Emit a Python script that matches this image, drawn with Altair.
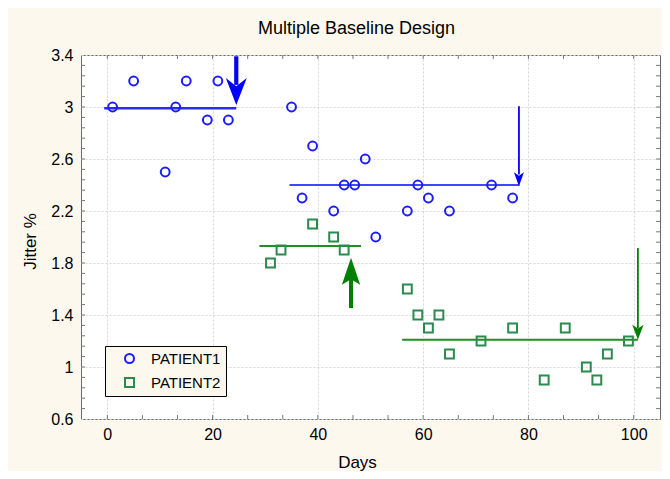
import altair as alt
import pandas as pd

# ---------------- data ----------------
patients = ["PATIENT1", "PATIENT2"]
point_colors = ["#1c1cff", "#2b8a4e"]
point_shapes = ["circle", "square"]

p1_days = [1, 5, 11, 13, 15, 19, 21, 23, 35, 37, 39, 43, 45, 47, 49, 51, 57, 59, 61, 65, 73, 77]
p1_jitter = [3.0, 3.2, 2.5, 3.0, 3.2, 2.9, 3.2, 2.9, 3.0, 2.3, 2.7, 2.2, 2.4, 2.4, 2.6, 2.0,
             2.2, 2.4, 2.3, 2.2, 2.4, 2.3]
p2_days = [31, 33, 39, 43, 45, 57, 59, 61, 63, 65, 71, 77, 83, 87, 91, 93, 95, 99]
p2_jitter = [1.8, 1.9, 2.1, 2.0, 1.9, 1.6, 1.4, 1.3, 1.4, 1.1, 1.2, 1.3, 0.9, 1.3, 1.0, 0.9, 1.1, 1.2]

# baseline (phase mean) lines
base_start = [-0.6, 34.6, 28.9, 56.0]
base_end = [24.5, 78.3, 48.2, 100.8]
base_level = [2.99, 2.40, 1.93, 1.21]
base_color = ["#2a2aff", "#4545ff", "#1f8f1f", "#1f8f1f"]
base_width = [2.6, 2.0, 2.0, 2.0]

# intervention arrows
arrow_day = [24.5, 78.2, 46.3, 100.8]
arrow_tail = [3.39, 3.005, 1.454, 1.915]
arrow_shaft_end = [3.17, 2.48, 1.70, 1.30]
arrow_tip = [3.015, 2.39, 1.84, 1.21]
arrow_color = ["#0000ff", "#0000ff", "#008000", "#008000"]
arrow_shaft_width = [4.2, 1.8, 4.0, 1.8]
arrow_head_path = [
    "M0,0 L-1,-2.57 L0,-1.8 L1,-2.57 Z",
    "M0,0 L-1,-2.8 L0,-2.1 L1,-2.8 Z",
    "M0,0 L-1,2.95 L0,2.35 L1,2.95 Z",
    "M0,0 L-1,-2.65 L0,-2.0 L1,-2.65 Z",
]
arrow_head_size = [441, 100, 335, 128]

# axis ticks
x_ticks = [0, 20, 40, 60, 80, 100]
y_ticks = [0.6, 1.0, 1.4, 1.8, 2.2, 2.6, 3.0, 3.4]
x_minor = [0, 6.67, 13.33, 20, 26.67, 33.33, 40, 46.67, 53.33, 60, 66.67, 73.33,
           80, 86.67, 93.33, 100]
y_minor = [0.68, 0.76, 0.84, 0.92, 1.0, 1.08, 1.16, 1.24, 1.32, 1.4, 1.48, 1.56, 1.64,
           1.72, 1.8, 1.88, 1.96, 2.04, 2.12, 2.2, 2.28, 2.36, 2.44, 2.52, 2.6, 2.68,
           2.76, 2.84, 2.92, 3.0, 3.08, 3.16, 3.24, 3.32]

W, H = 579, 364
FONT = "Liberation Sans"
BG = "#fcf8ee"

xscale = alt.Scale(domain=[-5, 105], nice=False, zero=False)
yscale = alt.Scale(domain=[0.6, 3.4], nice=False, zero=False)

X_AX = alt.Axis(values=x_ticks, title="Days", labelPadding=7,
                titleX=276, titleY=48, titleBaseline="alphabetic", titleAlign="center")
Y_AX = alt.Axis(values=y_ticks, format="~g", title="Jitter %", labelPadding=8,
                titleX=-51, titleY=186, titleBaseline="middle", titleAlign="center")


def X(field):
    return alt.X(field, scale=xscale, axis=X_AX)


def Y(field):
    return alt.Y(field, scale=yscale, axis=Y_AX)


points_df = pd.DataFrame({
    "Days": p1_days + p2_days,
    "Jitter": p1_jitter + p2_jitter,
    "Patient": [patients[0]] * len(p1_days) + [patients[1]] * len(p2_days),
})

legend = alt.Legend(
    title=None, orient="none", legendX=24, legendY=291,
    fillColor=BG, strokeColor="black", padding=5,
    labelFont=FONT, labelFontSize=15, labelColor="black",
    symbolSize=81, symbolStrokeWidth=2, symbolOffset=12, labelOffset=14,
    rowPadding=7,
)

points = alt.Chart(points_df).mark_point(filled=False, strokeWidth=2, size=78, opacity=1).encode(
    x=X("Days:Q"),
    y=Y("Jitter:Q"),
    color=alt.Color("Patient:N", scale=alt.Scale(domain=patients, range=point_colors), legend=legend),
    shape=alt.Shape("Patient:N", scale=alt.Scale(domain=patients, range=point_shapes), legend=legend),
)

layers = []

# frame ticks (inward)
tick_color = "#777777"
xt = pd.DataFrame({"Days": x_minor})
yt = pd.DataFrame({"Jitter": y_minor})
layers.append(alt.Chart(yt).mark_rule(color=tick_color, strokeWidth=1).encode(
    y=Y("Jitter:Q"), x=alt.value(0), x2=alt.value(4)))
layers.append(alt.Chart(yt).mark_rule(color=tick_color, strokeWidth=1).encode(
    y=Y("Jitter:Q"), x=alt.value(W - 4), x2=alt.value(W)))
layers.append(alt.Chart(xt).mark_rule(color=tick_color, strokeWidth=1).encode(
    x=X("Days:Q"), y=alt.value(H - 4), y2=alt.value(H)))
layers.append(alt.Chart(xt).mark_rule(color=tick_color, strokeWidth=1).encode(
    x=X("Days:Q"), y=alt.value(0), y2=alt.value(4)))

# baseline lines
for i in range(len(base_start)):
    df = pd.DataFrame({"Days": [base_start[i]], "x1": [base_end[i]], "Jitter": [base_level[i]]})
    layers.append(alt.Chart(df).mark_rule(color=base_color[i], strokeWidth=base_width[i]).encode(
        x=X("Days:Q"), x2="x1:Q", y=Y("Jitter:Q")))

layers.append(points)

# arrows
for i in range(len(arrow_day)):
    df = pd.DataFrame({"Days": [arrow_day[i]], "Jitter": [arrow_tail[i]], "y1": [arrow_shaft_end[i]],
                       "tip": [arrow_tip[i]]})
    layers.append(alt.Chart(df).mark_rule(color=arrow_color[i], strokeWidth=arrow_shaft_width[i],
                                          strokeCap="butt").encode(
        x=X("Days:Q"), y=Y("Jitter:Q"), y2="y1:Q"))
    layers.append(alt.Chart(df).mark_point(shape=arrow_head_path[i], filled=True,
                                           color=arrow_color[i], size=arrow_head_size[i],
                                           opacity=1, strokeWidth=0).encode(
        x=X("Days:Q"), y=Y("tip:Q")))

chart = alt.layer(*layers).properties(
    width=W, height=H,
    padding={"left": 73, "top": 47, "right": 2, "bottom": 52},
    autosize=alt.AutoSizeParams(type="none"),
    background=BG,
    title=alt.TitleParams("Multiple Baseline Design", font=FONT, fontSize=18, fontWeight="normal",
                          color="black", anchor="middle", frame="group", dx=-14, dy=27,
                          baseline="alphabetic", offset=22),
).configure_view(
    stroke="#6b6b6b", strokeWidth=1, fill="white"
).configure_axis(
    labelFont=FONT, labelFontSize=16, labelColor="black",
    titleFont=FONT, titleFontSize=17, titleFontWeight="normal", titleColor="black",
    domain=False, ticks=False, grid=True, gridColor="#d6d6d6", gridDash=[2, 2], gridWidth=1,
)

chart.save("out.html", embed_options={"renderer": "svg", "actions": False})
